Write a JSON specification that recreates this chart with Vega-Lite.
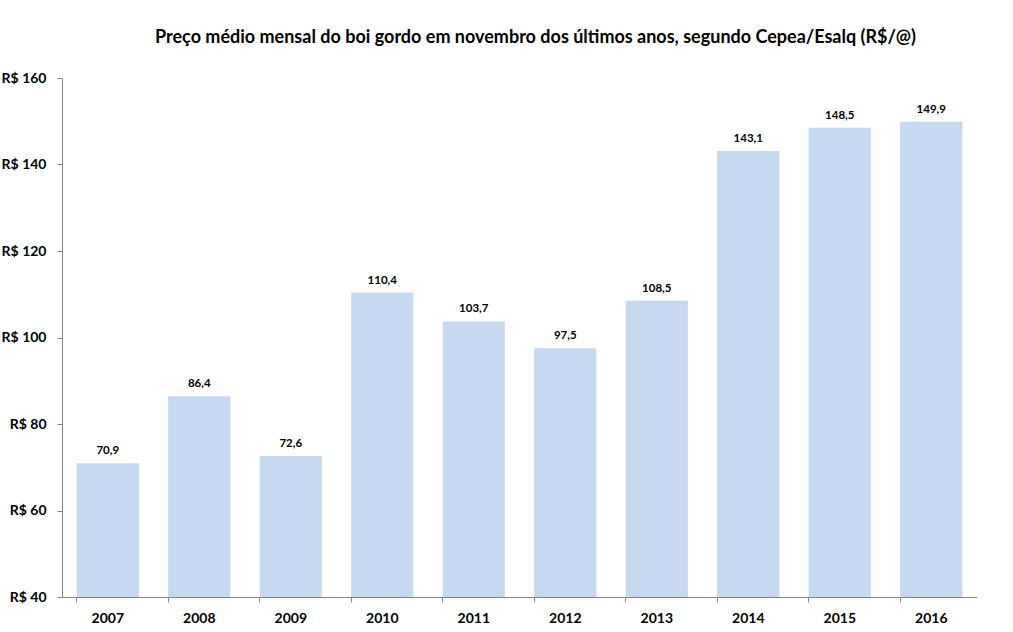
{
  "$schema": "https://vega.github.io/schema/vega-lite/v6.json",
  "autosize": "none",
  "width": 915,
  "height": 519,
  "padding": {"left": 62, "top": 78, "right": 36, "bottom": 35},
  "background": "white",
  "title": {
    "text": "Preço médio mensal do boi gordo em novembro dos últimos anos, segundo Cepea/Esalq (R$/@)",
    "font": "Lato",
    "fontSize": 18,
    "fontWeight": "bold",
    "color": "#000000",
    "anchor": "middle",
    "dx": 16,
    "offset": 24
  },
  "data": {
    "values": [
      {"ano": "2007", "preco": 70.9, "rotulo": "70,9"},
      {"ano": "2008", "preco": 86.4, "rotulo": "86,4"},
      {"ano": "2009", "preco": 72.6, "rotulo": "72,6"},
      {"ano": "2010", "preco": 110.4, "rotulo": "110,4"},
      {"ano": "2011", "preco": 103.7, "rotulo": "103,7"},
      {"ano": "2012", "preco": 97.5, "rotulo": "97,5"},
      {"ano": "2013", "preco": 108.5, "rotulo": "108,5"},
      {"ano": "2014", "preco": 143.1, "rotulo": "143,1"},
      {"ano": "2015", "preco": 148.5, "rotulo": "148,5"},
      {"ano": "2016", "preco": 149.9, "rotulo": "149,9"}
    ]
  },
  "config": {
    "view": {"stroke": null},
    "axis": {
      "domainColor": "#868686",
      "tickColor": "#868686",
      "labelFont": "Lato",
      "labelFontWeight": "bold",
      "labelColor": "#000000",
      "labelFontSize": 14,
      "grid": false,
      "title": null
    }
  },
  "encoding": {
    "x": {
      "field": "ano",
      "type": "nominal",
      "sort": null,
      "scale": {"paddingInner": 0.32, "paddingOuter": 0.16},
      "axis": {"labelAngle": 0, "bandPosition": 0, "tickSize": 5, "labelPadding": 9, "labelBaseline": "top"}
    },
    "y": {
      "field": "preco",
      "type": "quantitative",
      "scale": {"domain": [40, 160], "zero": false, "nice": false},
      "axis": {"values": [40, 60, 80, 100, 120, 140, 160], "labelExpr": "'R$ ' + datum.value", "tickSize": 5, "labelPadding": 11}
    }
  },
  "layer": [
    {"mark": {"type": "bar", "color": "#C6D9F0", "clip": true}},
    {
      "mark": {"type": "text", "font": "Lato", "fontWeight": "bold", "fontSize": 11.5, "color": "#000000", "baseline": "bottom", "dy": -7},
      "encoding": {"text": {"field": "rotulo"}}
    }
  ]
}
